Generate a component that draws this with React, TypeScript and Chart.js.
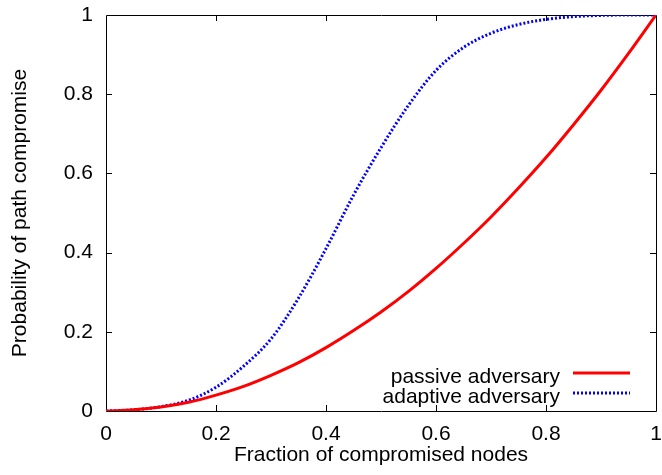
import React, { useEffect, useRef } from "react";
import { Chart, registerables } from "chart.js";

Chart.register(...registerables);

const xValues = [0, 0.05, 0.1, 0.15, 0.2, 0.25, 0.3, 0.35, 0.4, 0.45, 0.5, 0.55, 0.6, 0.65, 0.7, 0.75, 0.8, 0.85, 0.9, 0.95, 1];
const passiveValues = [0, 0.003, 0.01, 0.022, 0.04, 0.062, 0.09, 0.122, 0.16, 0.203, 0.25, 0.302, 0.36, 0.423, 0.49, 0.563, 0.64, 0.723, 0.81, 0.903, 1];
const adaptiveValues = [0, 0.003, 0.011, 0.027, 0.06, 0.113, 0.182, 0.285, 0.41, 0.545, 0.665, 0.772, 0.86, 0.918, 0.954, 0.976, 0.989, 0.996, 0.999, 1, 1];
const tickValues = [0, 0.2, 0.4, 0.6, 0.8, 1];
const seriesLabels = ["passive adversary", "adaptive adversary"];
const xTitle = "Fraction of compromised nodes";
const yTitle = "Probability of path compromise";

const FONT = "'Liberation Sans', Arial, Helvetica, sans-serif";
const FONT_SIZE = 21;

const framePlugin = {
  id: "gnuFrame",
  beforeDatasetsDraw(chart: any) {
    const { ctx, chartArea } = chart;
    const { left, right, top, bottom } = chartArea;
    const xs = chart.scales.x;
    const ys = chart.scales.y;
    const len = 6;
    ctx.save();
    ctx.strokeStyle = "#000";
    ctx.lineWidth = 1;
    ctx.beginPath();
    for (const v of tickValues) {
      if (v <= 0 || v >= 1) continue;
      const px = Math.round(xs.getPixelForValue(v)) + 0.5;
      ctx.moveTo(px, bottom);
      ctx.lineTo(px, bottom - len);
      ctx.moveTo(px, top);
      ctx.lineTo(px, top + len);
      const py = Math.round(ys.getPixelForValue(v)) + 0.5;
      ctx.moveTo(left, py);
      ctx.lineTo(left + len, py);
      ctx.moveTo(right, py);
      ctx.lineTo(right - len, py);
    }
    ctx.stroke();
    ctx.beginPath();
    ctx.rect(Math.round(left) + 0.5, Math.round(top) + 0.5, Math.round(right - left), Math.round(bottom - top));
    ctx.stroke();
    ctx.restore();
  },
  afterDatasetsDraw(chart: any) {
    const { ctx } = chart;
    const datasets = chart.data.datasets;
    const textRight = 560;
    const lineStart = 573;
    const lineEnd = 630;
    const rows = [
      { base: 383, line: 373 },
      { base: 403, line: 393 },
    ];
    ctx.save();
    ctx.font = `${FONT_SIZE}px ${FONT}`;
    ctx.fillStyle = "#000";
    ctx.textAlign = "right";
    ctx.textBaseline = "alphabetic";
    datasets.forEach((ds: any, i: number) => {
      const r = rows[i];
      ctx.fillText(ds.label, textRight, r.base);
      ctx.beginPath();
      ctx.strokeStyle = ds.borderColor;
      ctx.lineWidth = ds.borderWidth;
      ctx.setLineDash(ds.borderDash || []);
      ctx.moveTo(lineStart, r.line);
      ctx.lineTo(lineEnd, r.line);
      ctx.stroke();
    });
    ctx.restore();
  },
};

export default function App() {
  const canvasRef = useRef<HTMLCanvasElement | null>(null);

  useEffect(() => {
    const canvas = canvasRef.current;
    if (!canvas) return;
    const fmt = (v: any) => String(Number(Number(v).toFixed(2)));
    const chart = new Chart(canvas, {
      type: "line",
      data: {
        datasets: [
          {
            label: seriesLabels[0],
            data: xValues.map((x, i) => ({ x, y: passiveValues[i] })),
            borderColor: "#ff0000",
            borderWidth: 3,
            pointRadius: 0,
            fill: false,
            cubicInterpolationMode: "monotone",
          },
          {
            label: seriesLabels[1],
            data: xValues.map((x, i) => ({ x, y: adaptiveValues[i] })),
            borderColor: "#0000ff",
            borderWidth: 3,
            borderDash: [2, 2],
            pointRadius: 0,
            fill: false,
            cubicInterpolationMode: "monotone",
          },
        ],
      },
      options: {
        animation: false,
        responsive: false,
        maintainAspectRatio: false,
        layout: { padding: { top: 15, right: 6, left: 0, bottom: 0 } },
        plugins: {
          legend: { display: false },
          tooltip: { enabled: false },
        },
        scales: {
          x: {
            type: "linear",
            min: 0,
            max: 1,
            afterBuildTicks: (s: any) => {
              s.ticks = tickValues.map((v) => ({ value: v }));
            },
            afterFit: (s: any) => {
              s.height = 64;
            },
            grid: { display: false, drawTicks: true, tickLength: 11 },
            border: { display: false },
            ticks: {
              color: "#000",
              font: { family: FONT, size: FONT_SIZE },
              padding: 0,
              maxRotation: 0,
              callback: fmt,
            },
            title: {
              display: true,
              text: xTitle,
              color: "#000",
              font: { family: FONT, size: FONT_SIZE },
              padding: { top: 0, bottom: 7 },
            },
          },
          y: {
            type: "linear",
            min: 0,
            max: 1,
            afterBuildTicks: (s: any) => {
              s.ticks = tickValues.map((v) => ({ value: v }));
            },
            afterFit: (s: any) => {
              s.width = 106;
            },
            grid: { display: false, drawTicks: true, tickLength: 13 },
            border: { display: false },
            ticks: {
              color: "#000",
              font: { family: FONT, size: FONT_SIZE },
              padding: 0,
              callback: fmt,
            },
            title: {
              display: true,
              text: yTitle,
              color: "#000",
              font: { family: FONT, size: FONT_SIZE },
              padding: { top: 8, bottom: 0 },
            },
          },
        },
      },
      plugins: [framePlugin],
    } as any);
    return () => chart.destroy();
  }, []);

  return (
    <div style={{ position: "fixed", left: 0, top: 0, width: 662, height: 475, background: "#fff" }}>
      <canvas ref={canvasRef} width={662} height={475} style={{ display: "block", width: 662, height: 475 }} />
    </div>
  );
}
